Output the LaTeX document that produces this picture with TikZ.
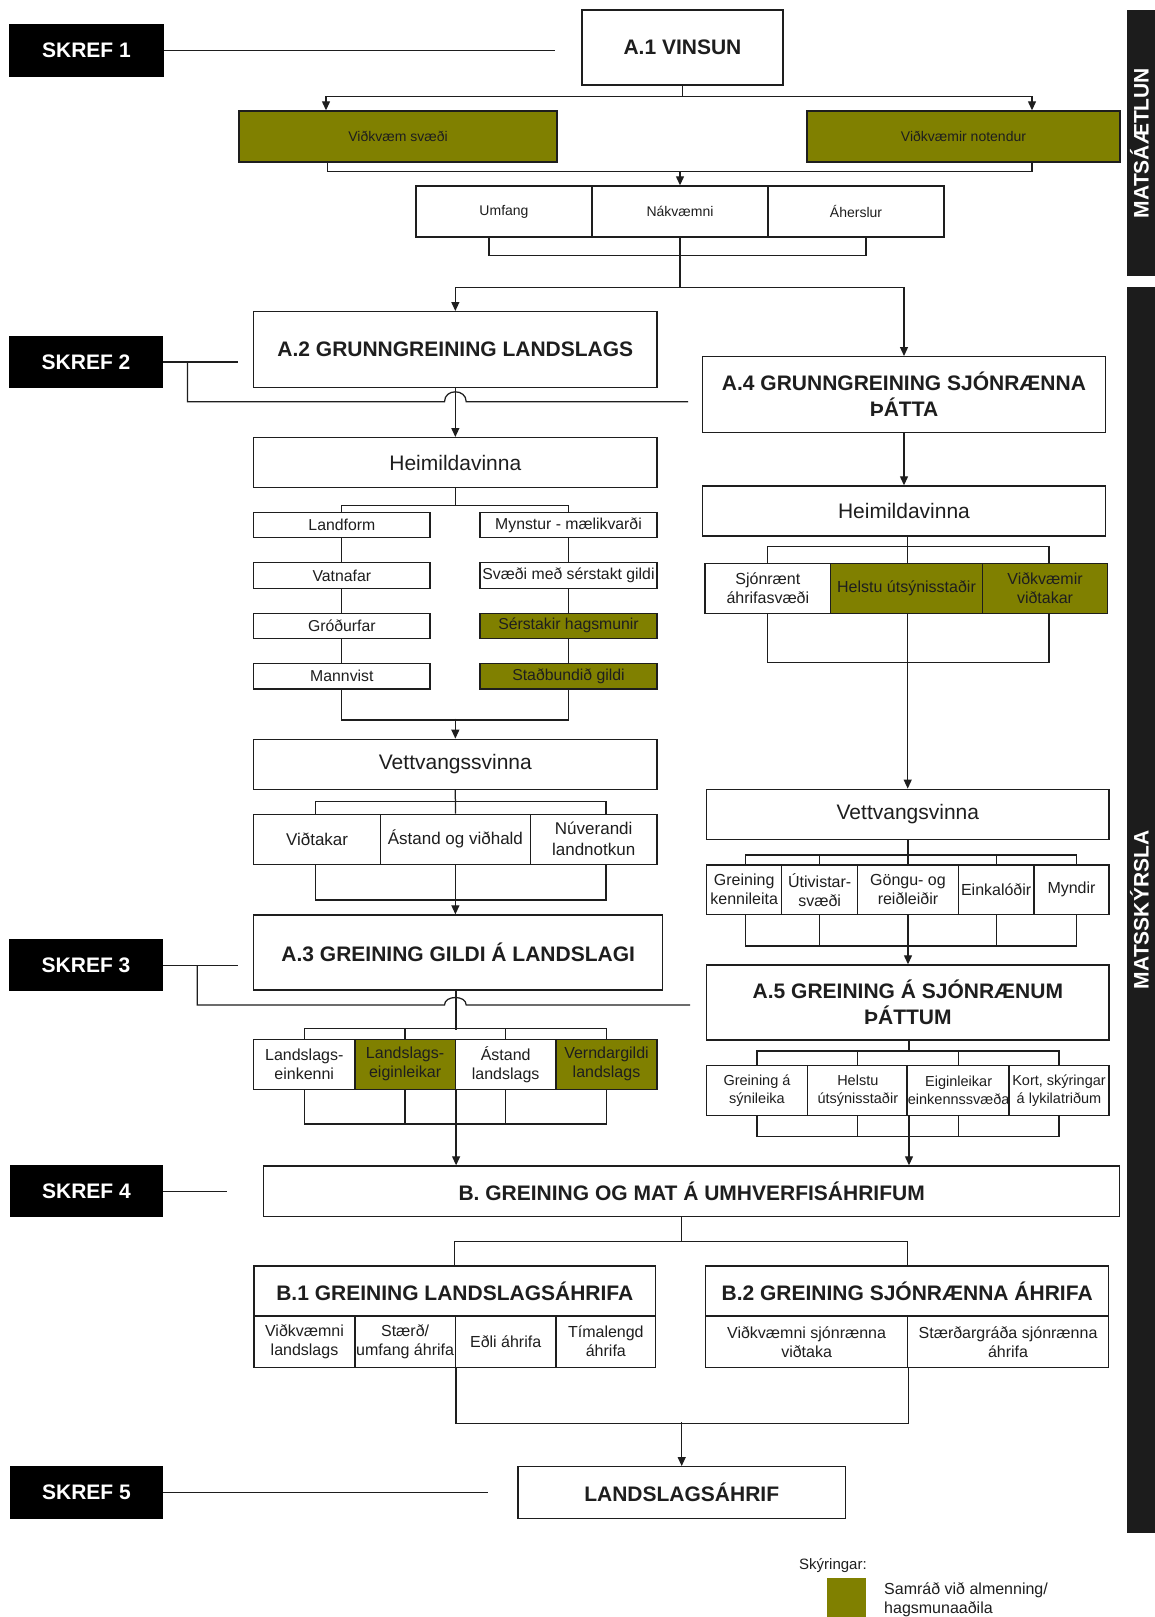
\documentclass[tikz,border=0pt]{standalone}
\usepackage{fontspec}
\setmainfont{Liberation Sans}
\usetikzlibrary{arrows.meta,calc}
\definecolor{olv}{RGB}{128,128,0}
\definecolor{ink}{RGB}{30,30,30}
\definecolor{barc}{RGB}{28,28,28}
\newcommand\bx[7][]{\node[box,#1,minimum width={#4pt-#2pt},minimum height={#5pt-#3pt}] (#6) at ({(#2+#4)/2},{(#3+#5)/2}) {#7};}
\begin{document}
\begin{tikzpicture}[x=1pt,y=-1pt,
  box/.style={draw=ink,line width=1.4pt,fill=white,inner sep=1pt,align=center,text=ink},
  olive/.style={fill=olv},
  skref/.style={fill=black,draw=black,text=white,font=\bfseries\fontsize{21}{24}\selectfont},
  ttl/.style={font=\bfseries\fontsize{21}{26}\selectfont},
  big/.style={font=\fontsize{21}{24}\selectfont},
  med/.style={font=\fontsize{16}{19}\selectfont},
  lst/.style={font=\fontsize{15.8}{18}\selectfont},
  mrow/.style={font=\fontsize{17}{21}\selectfont},
  a5f/.style={font=\fontsize{14.5}{18}\selectfont},
  sml/.style={font=\fontsize{14}{16}\selectfont},
  con/.style={draw=ink,line width=1.25pt},
  arr/.style={con,-{Triangle[length=9pt,width=8pt]}},
  bar/.style={fill=barc,draw=none,text=white,rotate=90,inner sep=0pt,minimum height=28pt,
    font=\bfseries\fontsize{21}{24}\selectfont,text height=15pt,text depth=0pt},
]
\useasboundingbox (0,0) rectangle (1155,1617);
\fill[white] (0,0) rectangle (1155,1617);

% ---------- side bars ----------
\node[bar,minimum width=266pt] (bar1) at (1141,143) {MATSÁÆTLUN};
\node[bar,minimum width=1245.7pt] (bar2) at (1141,909.85) {MATSSKÝRSLA};

% ---------- step 1 ----------
\bx[skref]{10}{25}{163}{76}{s1}{SKREF 1}
\bx[ttl]{582}{10}{783}{85}{a1}{A.1 VINSUN}
\bx[sml,olive]{239}{111}{557}{162}{vsv}{Viðkvæm svæði}
\bx[sml,olive]{807}{111}{1120}{162}{vno}{Viðkvæmir notendur}
\bx[sml]{416}{186}{592}{237}{umf}{Umfang}
\bx[sml]{592}{186}{768}{237}{nak}{Nákvæmni}
\bx[sml]{768}{186}{944}{237}{ahe}{Áherslur}
\coordinate (s1end) at (555,0 |- s1.east);
\draw[con] (s1.east) -- (s1end);
\draw[con] (a1.south) -- ++(0,10.7) coordinate (a1j);
\draw[arr] (a1j) -| (326,0 |- vsv.north);
\draw[arr] (a1j) -| (1032,0 |- vno.north);
\draw[con] (327.6,0 |- vsv.south) -- ++(0,9) -| (1032,0 |- vno.south);
\draw[arr] (nak.north |- 0,171) -- (nak.north);
\draw[con] (489,0 |- umf.south) -- ++(0,18) -| (866,0 |- ahe.south);
\draw[con] (nak.south) -- ++(0,50) coordinate (j3);

% ---------- step 2: A.2 ----------
\bx[ttl]{253.7}{311.7}{657}{387.3}{a2}{A.2 GRUNNGREINING LANDSLAGS}
\bx[skref]{9.5}{336.7}{162.6}{387.3}{s2}{SKREF 2}
\draw[arr] (j3) -| (a2.north);
\coordinate (s2end) at (688,401.7);
\draw[con] (s2.east) -- (237.7,0 |- s2.east);
\draw[con] (187.4,0 |- s2.east) -- (187.4,401.7) -- (444.5,401.7)
  .. controls (444.5,388.5) and (466.2,388.5) .. (466.2,401.7) -- (s2end);
\bx[big]{253.7}{437.7}{657}{487.7}{h1}{Heimildavinna}
\draw[arr] (a2.south) -- (h1.north);
\bx[lst]{253.7}{512.7}{430}{537.7}{lf}{Landform}
\bx[lst]{253.7}{562.7}{430}{588.3}{vf}{Vatnafar}
\bx[lst]{253.7}{613.3}{430}{638.3}{gf}{Gróðurfar}
\bx[lst]{253.7}{663.3}{430}{689}{mv}{Mannvist}
\bx[lst]{480}{512.7}{657}{537.7}{my}{Mynstur - mælikvarði}
\bx[lst]{480}{562.7}{657}{588.3}{sv}{Svæði með sérstakt gildi}
\bx[lst,olive]{480}{613.3}{657}{638.3}{sh}{Sérstakir hagsmunir}
\bx[lst,olive]{480}{663.3}{657}{689}{sg}{Staðbundið gildi}
\draw[con] (h1.south) -- ++(0,17.3);
\draw[con] (lf.north) |- ($(h1.south)+(0,17.3)$) -| (my.north);
\draw[con] (lf) -- (vf) -- (gf) -- (mv);
\draw[con] (my) -- (sv) -- (sh) -- (sg);
\draw[con] (mv.south) -- ++(0,30.3) -| (sg.south);
\bx[big]{253.7}{739.3}{657}{789.3}{vs}{Vettvangssvinna}
\draw[arr] ([yshift=20pt]vs.north) -- (vs.north);
\bx[mrow]{253.7}{814.3}{380.4}{864.3}{vt}{Viðtakar}
\bx[mrow]{380.4}{814.3}{530.4}{864.3}{av}{Ástand og viðhald}
\bx[mrow]{530.4}{814.3}{657}{864.3}{nl}{Núverandi\\landnotkun}
\draw[con] (vs.south) -- (av.north);
\draw[con] (315.3,0 |- vt.north) -- (315.3,801.7) -- (606,801.7) -- (606,0 |- nl.north);
\draw[con] (315.3,0 |- vt.south) -- (315.3,900) -- (606,900) -- (606,0 |- nl.south);

% ---------- step 3: A.3 ----------
\bx[ttl]{253.7}{915}{662.7}{990}{a3}{A.3 GREINING GILDI Á LANDSLAGI}
\bx[skref]{9.5}{940}{162.6}{990.7}{s3}{SKREF 3}
\draw[arr] (av.south) -- (av.south |- a3.north);
\coordinate (s3end) at (690,1005);
\draw[con] (s3.east) -- (237.7,0 |- s3.east);
\draw[con] (197.3,0 |- s3.east) -- (197.3,1005) -- (444.5,1005)
  .. controls (444.5,995) and (466.2,995) .. (466.2,1005) -- (s3end);
\bx[med]{253.7}{1039.3}{354.8}{1089.3}{le}{Landslags-\\einkenni}
\bx[med,olive]{354.8}{1039.3}{455.4}{1089.3}{lg}{Landslags-\\eiginleikar}
\bx[med]{455.4}{1039.3}{556}{1089.3}{al}{Ástand\\landslags}
\bx[med,olive]{556}{1039.3}{657}{1089.3}{vl}{Verndargildi\\landslags}
\draw[con] (lg.north east |- a3.south) -- ++(0,39.3);
\draw[con] (le.north) -- ++(0,-10) -| (vl.north);
\draw[con] (lg.north) -- ++(0,-10);
\draw[con] (al.north) -- ++(0,-10);
\draw[con] (le.south) -- ++(0,34) -| (vl.south);
\draw[con] (lg.south) -- ++(0,34);
\draw[con] (al.south) -- ++(0,34);

% ---------- A.4 column ----------
\bx[ttl]{702.3}{356.7}{1105.7}{432.3}{a4}{A.4 GRUNNGREINING SJÓNRÆNNA\\ÞÁTTA}
\draw[arr] (j3) -| (a4.north);
\bx[big]{702.3}{486}{1105.7}{536}{h2}{Heimildavinna}
\draw[arr] (a4.south) -- (h2.north);
\bx[med]{705}{563.3}{830.7}{613.3}{sj}{Sjónrænt\\áhrifasvæði}
\bx[med,olive]{830.7}{563.3}{982.3}{613.3}{hu}{Helstu útsýnisstaðir}
\bx[med,olive]{982.3}{563.3}{1107.7}{613.3}{vw}{Viðkvæmir\\viðtakar}
\draw[con] (907.7,0 |- h2.south) -- (907.7,0 |- hu.north);
\draw[con] (767.3,0 |- sj.north) -- (767.3,546.7) -- (1049,546.7) -- (1049,0 |- vw.north);
\draw[con] (767.3,0 |- sj.south) -- (767.3,662.7) -- (1049,662.7) -- (1049,0 |- vw.south);
\bx[big]{706.7}{789.3}{1109}{839.3}{v2}{Vettvangsvinna}
\draw[arr] (907.7,0 |- hu.south) -- (907.7,0 |- v2.north);
\bx[med]{706.7}{865}{781.7}{914.3}{gk}{Greining\\kennileita}
\bx[med]{781.7}{865}{857.7}{914.3}{us}{Útivistar-\\svæði}
\bx[med]{857.7}{865}{958.3}{914.3}{gr}{Göngu- og\\reiðleiðir}
\bx[med]{958.3}{865}{1034}{914.3}{ek}{Einkalóðir}
\bx[med]{1034}{865}{1109}{914.3}{md}{Myndir}
\draw[con] (v2.south -| gr.north) -- (gr.north);
\draw[con] (745.7,0 |- gk.north) -- (745.7,855) -- (1076.7,855) -- (1076.7,0 |- md.north);
\draw[con] (us.north) -- (us.north |- 0,855);
\draw[con] (ek.north) -- (ek.north |- 0,855);
\draw[con] (745.7,0 |- gk.south) -- (745.7,946) -- (1076.7,946) -- (1076.7,0 |- md.south);
\draw[con] (us.south) -- (us.south |- 0,946);
\draw[con] (ek.south) -- (ek.south |- 0,946);
\bx[ttl]{706.7}{965}{1109}{1040}{a5}{A.5 GREINING Á SJÓNRÆNUM\\ÞÁTTUM}
\draw[arr] (gr.south) -- (gr.south |- a5.north);
\bx[a5f]{706.7}{1065.7}{807.3}{1115.7}{gs}{Greining á\\sýnileika}
\bx[a5f]{807.3}{1065.7}{908.3}{1115.7}{hs}{Helstu\\útsýnisstaðir}
\bx[a5f]{908.3}{1065.7}{1009}{1115.7}{ee}{Eiginleikar\\einkennssvæða}
\bx[a5f]{1009}{1065.7}{1109}{1115.7}{ks}{Kort, skýringar\\á lykilatriðum}
\draw[con] (hs.north east |- a5.south) -- ++(0,11.7);
\draw[con] (gs.north) -- ++(0,-14) -| (ks.north);
\draw[con] (hs.north) -- ++(0,-14);
\draw[con] (ee.north) -- ++(0,-14);
\draw[con] (gs.south) -- ++(0,20.3) -| (ks.south);
\draw[con] (hs.south) -- ++(0,20.3);
\draw[con] (ee.south) -- ++(0,20.3);

% ---------- step 4: B ----------
\bx[ttl]{263.7}{1166}{1119.6}{1216.7}{bb}{B. GREINING OG MAT Á UMHVERFISÁHRIFUM}
\bx[skref]{11}{1166}{162}{1216.7}{s4}{SKREF 4}
\draw[con] (s4.east) -- (227,0 |- s4.east);
\draw[arr] (lg.south east) -- (lg.south east |- bb.north);
\draw[arr] (hs.south east) -- (hs.south east |- bb.north);
\bx[ttl]{254}{1266}{655.6}{1316}{b1}{B.1 GREINING LANDSLAGSÁHRIFA}
\bx[med]{254}{1316}{355}{1367.3}{b11}{Viðkvæmni\\landslags}
\bx[med]{355}{1316}{455.2}{1367.3}{b12}{Stærð/\\umfang áhrifa}
\bx[med]{455.2}{1316}{556.1}{1367.3}{b13}{Eðli áhrifa}
\bx[med]{556.1}{1316}{655.6}{1367.3}{b14}{Tímalengd\\áhrifa}
\bx[ttl]{705.7}{1266}{1108.6}{1316}{b2}{B.2 GREINING SJÓNRÆNNA ÁHRIFA}
\bx[med]{705.7}{1316}{907.5}{1367.3}{b21}{Viðkvæmni sjónrænna\\viðtaka}
\bx[med]{907.5}{1316}{1108.6}{1367.3}{b22}{Stærðargráða sjónrænna\\áhrifa}
\draw[con] (681.5,0 |- bb.south) -- (681.5,1241.7);
\draw[con] (b1.north) |- (681.5,1241.7) -| (b2.north);

% ---------- step 5 ----------
\bx[ttl]{517.8}{1466.7}{845.6}{1518.3}{ls}{LANDSLAGSÁHRIF}
\bx[skref]{11}{1466.7}{162}{1518.3}{s5}{SKREF 5}
\draw[con] (s5.east) -- (488.4,0 |- s5.east);
\draw[con] (b12.south east) -- ++(0,55.4) -| (b21.south east);
\draw[arr] ([yshift=44pt]ls.north) -- (ls.north);

% ---------- legend ----------
\node[anchor=west,inner sep=0pt,text=ink,font=\fontsize{15}{18}\selectfont] (legh) at (799,1565.7) {Skýringar:};
\node[fill=olv,draw=none,minimum width=39pt,minimum height=39pt,inner sep=0pt] (legsq) at (846,1597.6) {};
\node[anchor=west,inner sep=0pt,align=left,text=ink,font=\fontsize{16}{19}\selectfont] (legt) at (884,1599.5) {Samráð við almenning/\\hagsmunaaðila};
\end{tikzpicture}
\end{document}
